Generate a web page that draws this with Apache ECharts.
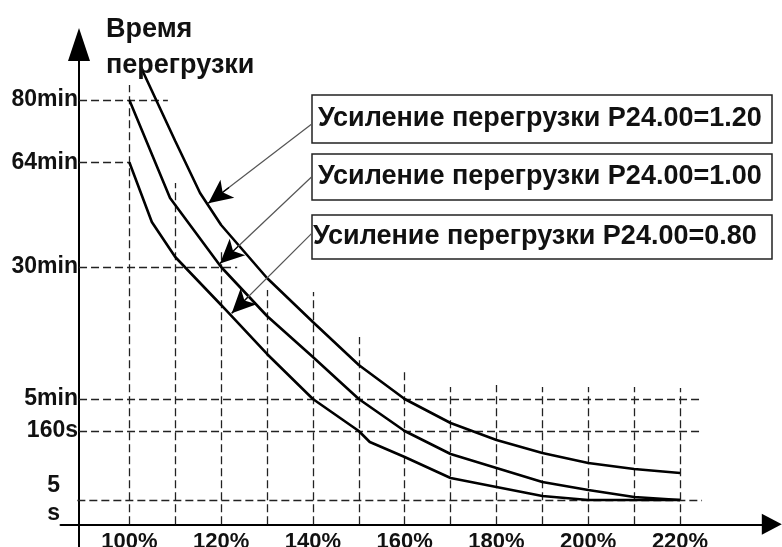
<!DOCTYPE html>
<html>
<head>
<meta charset="utf-8">
<script src="https://cdn.jsdelivr.net/npm/echarts@6/dist/echarts.min.js"></script>
<style>
  html, body { margin: 0; padding: 0; background: #fff; }
  #chart { width: 782px; height: 547px; }
</style>
</head>
<body>
<div id="chart"></div>
<script>
// Load (% of rated) on the x axis; y is a schematic time scale (position units).
const FONT = "'Liberation Sans', Arial, sans-serif";

// Time levels marked on the vertical axis and their labels
const timeLevels = [5.73, 21.99, 29.53, 60.64, 85.32, 100.0];
const timeLabels = ['5\ns', '160s', '5min', '30min', '64min', '80min'];

// Load tick labels
const loadTicks = [100, 120, 140, 160, 180, 200, 220];

// Overload curves, one per gain setting
const gain120Load = [102.6, 110, 115.41, 120, 130, 140, 150, 160, 170, 180, 190, 200, 210, 220];
const gain120Time = [107.54, 90.34, 78.08, 70.54, 58.05, 47.68, 37.54, 29.53, 23.87, 19.87, 16.80, 14.45, 13.03, 12.09];

const gain100Load = [100, 108.87, 120, 130, 140, 150, 160, 170, 180, 190, 200, 210, 220];
const gain100Time = [100.0, 76.90, 60.64, 49.09, 39.43, 29.53, 21.99, 16.57, 13.27, 9.97, 8.08, 6.43, 5.73];

const gain080Load = [100, 104.9, 110, 120, 130, 140, 150, 152.4, 160, 170, 180, 190, 200, 210, 220];
const gain080Time = [85.32, 71.25, 63.0, 51.69, 40.14, 29.53, 21.99, 19.40, 15.86, 10.91, 8.79, 6.67, 5.73, 5.73, 5.73];

// Dashed reference grid: vertical lines (load, top level) and horizontal lines (level, from, to)
const gridLoads = [100, 110, 120, 130, 140, 150, 160, 170, 180, 190, 200, 210, 220];
const gridLoadTops = [103.54, 80.44, 64.88, 55.22, 54.75, 44.14, 35.89, 32.36, 32.83, 32.36, 32.36, 32.36, 32.12];
const gridLevelFrom = [89.04, 89.04, 89.04, 89.04, 89.04, 88.67];
const gridLevelTo = [108.4, 100, 123.5, 224.8, 224.6, 224.8];
const gridLevels = [100.0, 85.32, 60.64, 29.53, 21.99, 5.73];

// Callout texts and their leader lines (start at the box, end at the arrow tip)
const calloutTexts = [
  'Усиление перегрузки P24.00=1.20',
  'Усиление перегрузки P24.00=1.00',
  'Усиление перегрузки P24.00=0.80'
];
const leaderFrom = [[139.75, 94.34], [139.75, 81.92], [139.75, 68.58]];
const leaderTo = [[117.21, 75.65], [119.76, 61.47], [122.31, 49.73]];

const zip = (xs, ys) => xs.map((x, i) => [x, ys[i]]);

const gridSegments = [];
gridLoads.forEach((x, i) => gridSegments.push({ coords: [[x, 0], [x, gridLoadTops[i]]] }));
gridLevels.forEach((y, i) => gridSegments.push({ coords: [[gridLevelFrom[i], y], [gridLevelTo[i], y]] }));

// Thin grey leader from each box, plus a short black stub carrying the arrowhead
const leaderLines = leaderFrom.map((a, i) => [
  { coord: a, symbol: 'none' },
  { coord: leaderTo[i], symbol: 'none' }
]);
const leaderHeads = leaderFrom.map((a, i) => {
  const b = leaderTo[i];
  const s = [b[0] - 0.2 * (b[0] - a[0]), b[1] - 0.2 * (b[1] - a[1])];
  return [
    { coord: s, symbol: 'none', lineStyle: { color: '#000', width: 1.2 } },
    { coord: b, symbol: 'arrow' }
  ];
});

const curveStyle = { color: '#000', width: 2.6 };

// Callout box layout (pixels)
const boxLeft = 312, boxWidth = 460;
const boxTops = [95, 154, 215];
const boxHeights = [48, 46, 44];
const textLefts = [318, 318, 313];

const chart = echarts.init(document.getElementById('chart'), null, { renderer: 'canvas' });

chart.setOption({
  animation: false,
  backgroundColor: '#fff',
  title: {
    text: 'Время\nперегрузки',
    left: 106, top: 12, padding: 0,
    textStyle: { fontFamily: FONT, fontSize: 27, fontWeight: 'bold', lineHeight: 36, color: '#111' }
  },
  grid: {
    left: 60.5, right: 10.2, top: 44.5, bottom: 0,
    containLabel: false, outerBoundsMode: 'none'
  },
  xAxis: {
    type: 'value', min: 85, max: 240, offset: -22.7,
    axisLine: { show: true, onZero: false, lineStyle: { color: '#000', width: 2 },
                symbol: ['none', 'triangle'], symbolSize: [21, 20] },
    axisTick: { show: false },
    splitLine: { show: false },
    axisLabel: {
      customValues: loadTicks, margin: 7,
      formatter: v => v + '%',
      fontFamily: FONT, fontSize: 22, fontWeight: 'bold', color: '#111'
    }
  },
  yAxis: {
    type: 'value', min: -5.35, max: 113.08, offset: -18.5,
    axisLine: { show: true, onZero: false, lineStyle: { color: '#000', width: 2 },
                symbol: ['none', 'triangle'], symbolSize: [22, 33] },
    axisTick: { show: false },
    splitLine: { show: false },
    axisLabel: {
      customValues: timeLevels, margin: 1,
      formatter: v => {
        let k = 0;
        timeLevels.forEach((t, i) => { if (Math.abs(t - v) < Math.abs(timeLevels[k] - v)) k = i; });
        const s = timeLabels[k];
        return s.indexOf('\n') >= 0 ? s.split('\n').map(p => '{two|' + p + '}').join('\n') : s;
      },
      fontFamily: FONT, fontSize: 23, fontWeight: 'bold', color: '#111',
      rich: {
        two: { fontFamily: FONT, fontSize: 23, fontWeight: 'bold', color: '#111',
               lineHeight: 28, padding: [0, 18, 0, 0] }
      }
    }
  },
  series: [
    {
      type: 'lines', coordinateSystem: 'cartesian2d', z: 1, silent: true,
      lineStyle: { color: '#222', width: 1.3, type: [8, 4], opacity: 1 },
      data: gridSegments
    },
    {
      name: 'P24.00=1.20', type: 'line', data: zip(gain120Load, gain120Time),
      symbol: 'none', lineStyle: curveStyle, z: 3, silent: true,
      markLine: {
        silent: true, animation: false,
        symbol: ['none', 'arrow'], symbolSize: [17, 24],
        label: { show: false },
        lineStyle: { color: '#555', width: 1.2, type: 'solid' },
        data: leaderLines.concat(leaderHeads)
      }
    },
    {
      name: 'P24.00=1.00', type: 'line', data: zip(gain100Load, gain100Time),
      symbol: 'none', lineStyle: curveStyle, z: 3, silent: true
    },
    {
      name: 'P24.00=0.80', type: 'line', data: zip(gain080Load, gain080Time),
      symbol: 'none', lineStyle: curveStyle, z: 3, silent: true
    }
  ],
  graphic: calloutTexts.map((t, i) => ({
    type: 'group', z: 100,
    children: [
      { type: 'rect', shape: { x: boxLeft, y: boxTops[i], width: boxWidth, height: boxHeights[i] },
        style: { fill: '#fff', stroke: '#222', lineWidth: 1.5 } },
      { type: 'text', x: textLefts[i], y: boxTops[i] + boxHeights[i] / 2,
        style: { text: t, fontFamily: FONT, fontSize: 27, fontWeight: 'bold', fill: '#111',
                 verticalAlign: 'middle', align: 'left' } }
    ]
  }))
});
</script>
</body>
</html>
